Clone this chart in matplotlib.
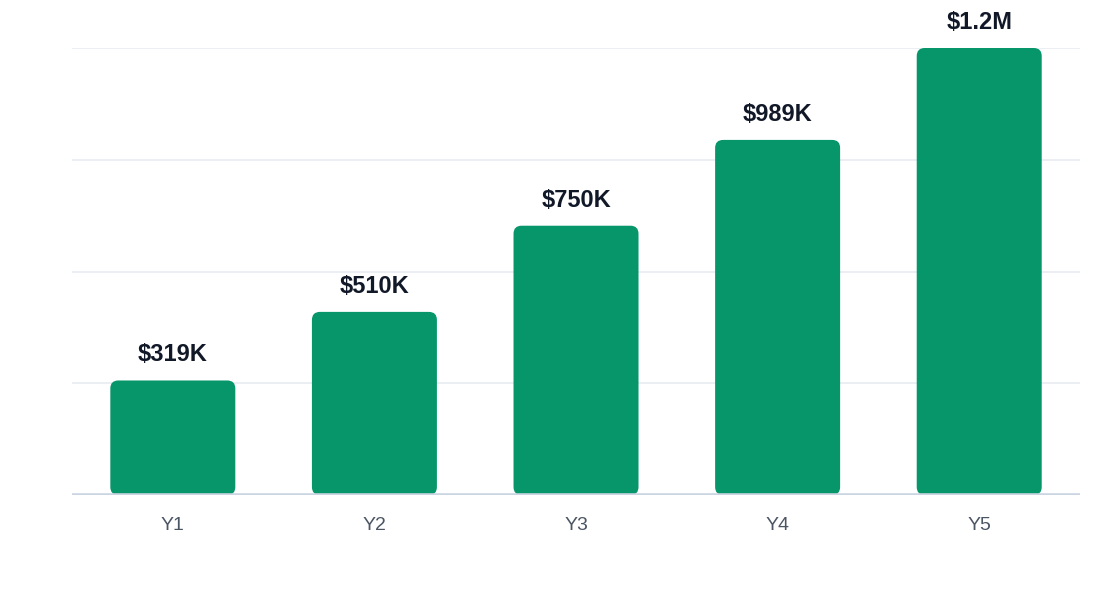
import matplotlib
matplotlib.use("Agg")
import matplotlib.pyplot as plt
from matplotlib.patches import FancyBboxPatch

plt.rcParams['font.family'] = ['Liberation Sans', 'DejaVu Sans']

years = ['Y1', 'Y2', 'Y3', 'Y4', 'Y5']
revenue_k = [319, 510, 750, 989, 1245]
labels = ['$319K', '$510K', '$750K', '$989K', '$1.2M']

fig = plt.figure(figsize=(11.2, 6), dpi=100)
ax = fig.add_axes([0.0643, 0.175, 0.9, 0.745])

ymax = max(revenue_k)
ax.set_xlim(-0.5, len(years) - 0.5)
ax.set_ylim(0, ymax)

# grid lines
for g in [ymax * i / 4 for i in range(1, 5)]:
    ax.axhline(g, color='#e9edf2', lw=1.3, zorder=0)
ax.axhline(0, color='#cbd5e1', lw=2.6, zorder=3)

# rounded bars: radius in pixels converted to data units
bw = 0.62
ax_w = fig.get_figwidth() * fig.dpi * 0.9
ax_h = fig.get_figheight() * fig.dpi * 0.745
x_per_px = len(years) / ax_w
y_per_px = ymax / ax_h
r = 8 * x_per_px
aspect = y_per_px / x_per_px
for i, (v, lab) in enumerate(zip(revenue_k, labels)):
    p = FancyBboxPatch((i - bw / 2 + r, r * aspect), bw - 2 * r, v - 2 * r * aspect,
                       boxstyle=f"round,pad={r},rounding_size={r}",
                       mutation_aspect=aspect, fc='#07966a', ec='none', zorder=2)
    ax.add_patch(p)
    ax.text(i, v + 14 * y_per_px, lab, ha='center', va='bottom',
            fontsize=17, fontweight='bold', color='#111827')

ax.set_xticks(range(len(years)))
ax.set_xticklabels(years, fontsize=14, color='#4b5563')
ax.tick_params(axis='x', length=0, pad=16)
ax.set_yticks([])
for s in ax.spines.values():
    s.set_visible(False)

fig.savefig('out.png', dpi=100)
